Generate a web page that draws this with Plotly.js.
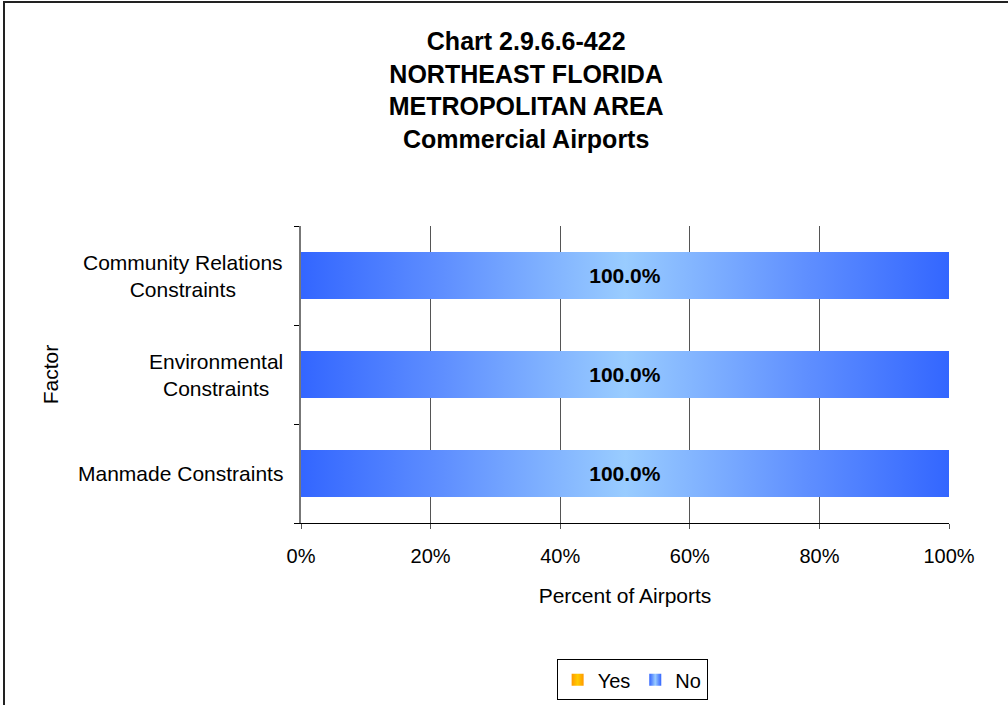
<!DOCTYPE html>
<html>
<head>
<meta charset="utf-8">
<script src="https://cdn.plot.ly/plotly-3.0.1.min.js"></script>
<style>
  html, body { margin: 0; padding: 0; background: #fff; }
  #chart { width: 1008px; height: 705px; }
  #frame { position: absolute; left: 3px; top: 1px; width: 1100px; height: 800px;
           border-left: 2px solid #222; border-top: 2px solid #222; pointer-events: none; }
</style>
</head>
<body>
<div id="chart"></div>
<div id="frame"></div>
<svg width="0" height="0" style="position:absolute">
  <defs>
    <linearGradient id="noGrad" x1="0" y1="0" x2="1" y2="0">
      <stop offset="0" stop-color="#3366ff"/>
      <stop offset="0.22" stop-color="#5f8fff"/>
      <stop offset="0.5" stop-color="#99ccff"/>
      <stop offset="0.78" stop-color="#5f8fff"/>
      <stop offset="1" stop-color="#3366ff"/>
    </linearGradient>
    <linearGradient id="yesGrad" x1="0" y1="0" x2="1" y2="0">
      <stop offset="0" stop-color="#ff9900"/>
      <stop offset="0.5" stop-color="#ffcc00"/>
      <stop offset="1" stop-color="#ff9900"/>
    </linearGradient>
  </defs>
</svg>
<script>
// ---- data ----
var categories = ['Manmade Constraints', 'Environmental<br>Constraints', 'Community Relations<br>Constraints'];
var yesValues = [0, 0, 0];
var noValues = [100, 100, 100];
var xTickVals = [0, 20, 40, 60, 80, 100];
var xTickText = ['0%', '20%', '40%', '60%', '80%', '100%'];
var titleLines = ['Chart 2.9.6.6-422', 'NORTHEAST FLORIDA', 'METROPOLITAN AREA', 'Commercial Airports'];

var FONT = 'Liberation Sans, Arial, sans-serif';

var traces = [
  {
    type: 'bar', orientation: 'h', name: 'Yes',
    y: categories, x: yesValues,
    marker: { color: '#ffaa00', line: { width: 0 } },
    width: 0.47, hoverinfo: 'x+y'
  },
  {
    type: 'bar', orientation: 'h', name: 'No',
    y: categories, x: noValues,
    text: noValues.map(function (v) { return v.toFixed(1) + '%'; }),
    textposition: 'inside', insidetextanchor: 'middle',
    textfont: { family: FONT, size: 21, color: '#000', weight: 'bold' },
    marker: { color: '#6f9dff', line: { width: 0 } },
    width: 0.47, hoverinfo: 'x+y'
  }
];

var annotations = categories.map(function (c) {
  return {
    xref: 'paper', yref: 'y', x: 0, y: c, xanchor: 'right', yanchor: 'middle',
    xshift: -16, text: c, showarrow: false, align: 'center',
    font: { family: FONT, size: 21, color: '#000' }
  };
});
annotations.push({
  xref: 'paper', yref: 'paper', x: -0.386, y: 0.5, xanchor: 'center', yanchor: 'middle',
  text: 'Factor', textangle: -90, showarrow: false,
  font: { family: FONT, size: 21, color: '#000' }
});

var layout = {
  width: 1008, height: 705,
  paper_bgcolor: '#fff', plot_bgcolor: '#fff',
  margin: { l: 301, r: 59, t: 226, b: 182, pad: 0, autoexpand: false },
  barmode: 'stack',
  showlegend: true,
  title: {
    text: '<b>' + titleLines.join('<br>') + '</b>',
    x: 0.522, xanchor: 'center', xref: 'container',
    y: 0.929, yanchor: 'middle', yref: 'container',
    font: { family: FONT, size: 25, color: '#000' }
  },
  font: { family: FONT, size: 20, color: '#000' },
  xaxis: {
    range: [0, 100], tickvals: xTickVals, ticktext: xTickText,
    showgrid: true, gridcolor: '#555', gridwidth: 1,
    showline: true, linecolor: '#000', linewidth: 1,
    ticks: 'outside', ticklen: 5, tickcolor: '#555',
    ticklabelstandoff: 10, automargin: false,
    tickfont: { family: FONT, size: 20, color: '#000' },
    zeroline: false, fixedrange: true,
    title: { text: 'Percent of Airports', standoff: 22, font: { family: FONT, size: 21, color: '#000' } }
  },
  yaxis: {
    type: 'category', categoryorder: 'array', categoryarray: categories,
    tickson: 'boundaries', ticks: 'outside', ticklen: 5, tickcolor: '#000',
    showticklabels: false, showgrid: false, automargin: false,
    showline: true, linecolor: '#777', linewidth: 2,
    zeroline: false, fixedrange: true
  },
  legend: {
    orientation: 'h', x: 0.511, xanchor: 'center', y: -0.459, yanchor: 'top',
    bordercolor: '#000', borderwidth: 1, bgcolor: '#fff',
    font: { family: FONT, size: 20, color: '#000' },
    itemwidth: 30, traceorder: 'normal'
  },
  annotations: annotations
};

Plotly.newPlot('chart', traces, layout, { displayModeBar: false, staticPlot: true }).then(function () {
  var gd = document.getElementById('chart');
  var traceGroups = gd.querySelectorAll('.barlayer .trace.bars');
  if (traceGroups.length >= 2) {
    traceGroups[1].querySelectorAll('path').forEach(function (p) { p.style.fill = 'url(#noGrad)'; });
  }
  var legendPts = gd.querySelectorAll('.legend .traces');
  legendPts.forEach(function (g, i) {
    g.querySelectorAll('.legendpoints path').forEach(function (p) {
      p.style.fill = i === 0 ? 'url(#yesGrad)' : 'url(#noGrad)';
    });
  });
});
</script>
</body>
</html>
